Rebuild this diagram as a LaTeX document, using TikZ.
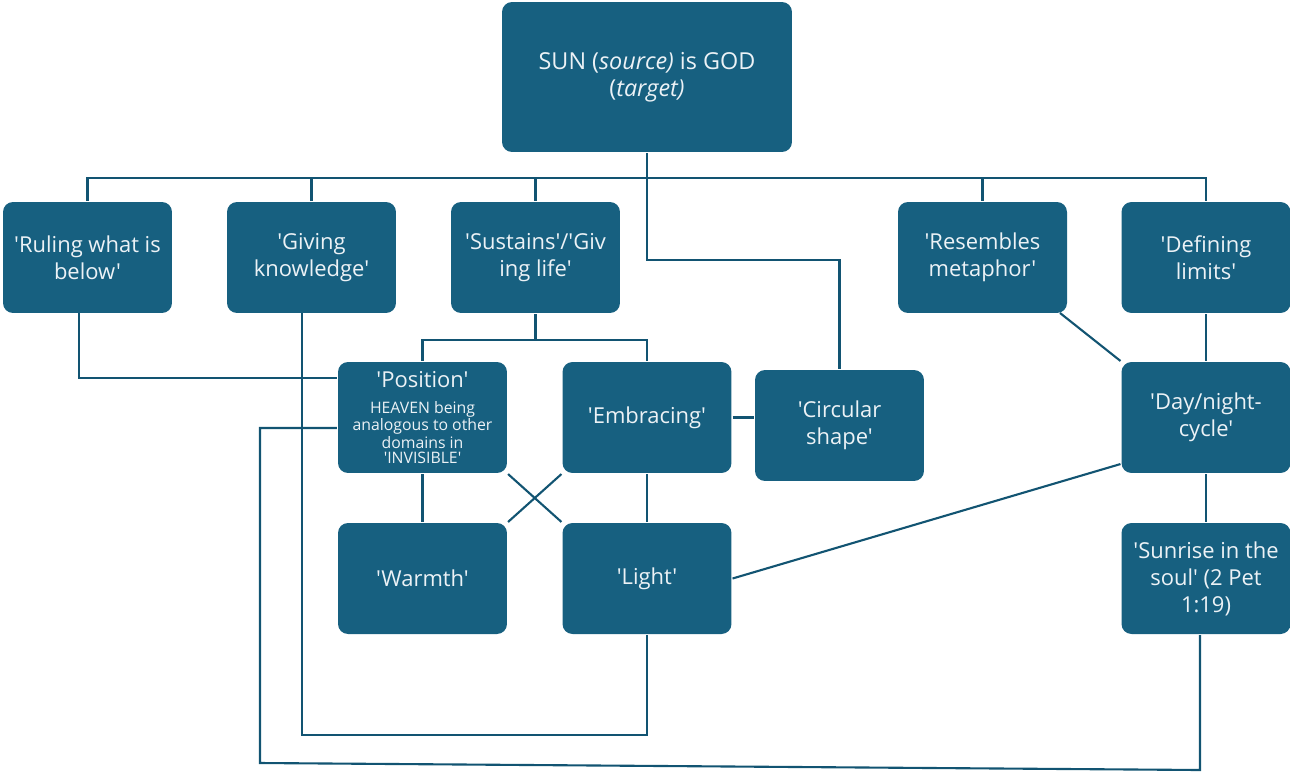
\documentclass[tikz,border=0pt]{standalone}
\usepackage{fontspec}
\setmainfont{Open Sans}[Ligatures=TeXOff]
\definecolor{boxblue}{RGB}{23,96,128}
\definecolor{lineblue}{RGB}{18,84,114}
\definecolor{boxtext}{RGB}{236,242,246}

\begin{document}
\begin{tikzpicture}[x=0.02cm, y=-0.02cm, line width=1.2pt, draw=lineblue]
    \tikzstyle{box}=[fill=boxblue, text=boxtext, rounded corners=0.2cm, align=center,
        minimum width=3.38cm, minimum height=2.22cm, inner sep=0pt,
        font=\fontsize{12.5}{15.3}\selectfont];
    \tikzstyle{link}=[draw=lineblue, line width=1.2pt];

    \useasboundingbox (0,0) rectangle (1290,771);

    % top level
    \node (sun) [box, minimum width=5.8cm, minimum height=3cm, font=\fontsize{13.3}{15.3}\selectfont] at (647,77)
        {SUN (\textit{source)} is GOD\\(\textit{target)}};

    % second row
    \node (rule) [box] at (87.5,257.5) {'Ruling what is\\below'};
    \node (giving) [box] at (311.5,257.5) {'Giving\\knowledge'};
    \node (sustains) [box] at (535.5,257.5) {'Sustains'/'Giv\\ing life'};
    \node (resembles) [box] at (982.5,257.5) {'Resembles\\metaphor'};
    \node (defining) [box] at (1206,257.5) {'Defining\\limits'};

    % third row
    \node (position) [box, font=\fontsize{9}{8.6}\selectfont] at (422.5,417.5)
        {{\fontsize{12.5}{15.3}\selectfont 'Position'}\\[6pt]HEAVEN being\\analogous to other\\domains in\\'INVISIBLE'};
    \node (embracing) [box] at (647,417.5) {'Embracing'};
    \node (circular) [box] at (839.5,425.5) {'Circular\\shape'};
    \node (daynight) [box] at (1206,417.5) {'Day/night-\\cycle'};

    % bottom row
    \node (warmth) [box] at (422.5,578.5) {'Warmth'};
    \node (light) [box] at (647,578.5) {'Light'};
    \node (sunrise) [box] at (1206,578.5) {'Sunrise in the\\soul' (2 Pet\\1:19)};

    \coordinate (bus) at (647,178);
    \coordinate (fork) at (535.5,340);

    \draw[link] (sun.south) -- (bus);
    \draw[link] (rule.north) |- (bus) -| (defining.north);
    \draw[link] (giving.north) -- (giving.north |- bus);
    \draw[link] (sustains.north) -- (sustains.north |- bus);
    \draw[link] (resembles.north) -- (resembles.north |- bus);
    \draw[link] (bus) -- (647,260) -| (circular.north);

    \draw[link] (sustains.south) -- (fork);
    \draw[link] (position.north) |- (fork) -| (embracing.north);
    \draw[link] (79,313) |- (position.west |- 0,378);
    \draw[link] (302,313) |- (647,735) -- (light.south);
    \draw[link] (position.west |- 0,428) -| (260,763) -- (1200,770) -- ([xshift=-0.12cm]sunrise.south);

    \draw[link] (position.south) -- (warmth.north);
    \draw[link] (position.south east) -- (light.north west);
    \draw[link] (embracing.south west) -- (warmth.north east);
    \draw[link] (embracing.south) -- (light.north);
    \draw[link] (embracing.east) -- (circular.west |- embracing.east);
    \draw[link] (1060,313) -- (daynight.north west);
    \draw[link] (defining.south) -- (daynight.north);
    \draw[link] ([yshift=0.2cm]daynight.south west) -- (light.east);
    \draw[link] (daynight.south) -- (sunrise.north);
\end{tikzpicture}
\end{document}
